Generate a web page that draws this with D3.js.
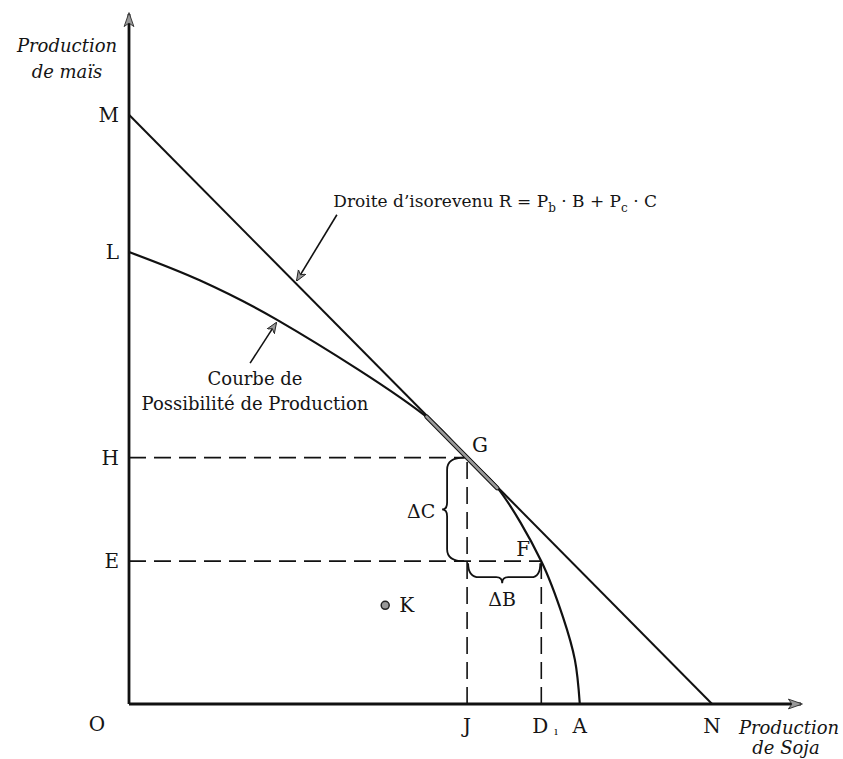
<!DOCTYPE html>
<html>
<head>
<meta charset="utf-8">
<script src="https://cdn.jsdelivr.net/npm/d3@7"></script>
<style>
  body { margin: 0; background: #fff; }
  text, tspan { font-family: "DejaVu Serif", serif; fill: #151515; }
</style>
</head>
<body>
<div id="chart"></div>
<script>
// valeurs (unités arbitraires)
var axisEnd = [96, 100];                 // bout des axes x, y
var yNames = ["M", "L", "H", "E"];
var yValues = [85.4, 65.5, 35.7, 20.7];
var xNames = ["J", "D", "A", "N"];
var xValues = [48.3, 58.9, 64.4, 83.3];
var pointG = [48.3, 35.7];
var pointF = [58.9, 20.7];
var pointK = [36.6, 14.3];
// courbe de possibilité de production
var ppfX = [0, 10.1, 21.1, 43.0, 48.3, 52.6, 58.9, 62.0, 63.7, 64.4];
var ppfY = [65.5, 61.4, 55.7, 41.2, 35.7, 31.4, 20.7, 12.6, 6.4, 0];

window.onload = () => {
    var width = 843;
    var height = 759;

    var svg = d3.select("#chart")
        .append("svg")
        .attr("width", width)
        .attr("height", height);

    var x = d3.scaleLinear().domain([0, 100]).range([129, 829]);
    var y = d3.scaleLinear().domain([0, 100]).range([704, 14]);

    var defs = svg.append("defs");
    defs.append("marker")
        .attr("id", "head")
        .attr("viewBox", "0 0 10 10")
        .attr("refX", 9).attr("refY", 5)
        .attr("markerWidth", 11).attr("markerHeight", 11)
        .attr("markerUnits", "userSpaceOnUse")
        .attr("orient", "auto")
        .append("path")
        .attr("d", "M0,1 L10,5 L0,9 L3,5 Z")
        .attr("fill", "#999").attr("stroke", "#222").attr("stroke-width", 0.8);
    defs.append("marker")
        .attr("id", "bighead")
        .attr("viewBox", "0 0 10 10")
        .attr("refX", 9).attr("refY", 5)
        .attr("markerWidth", 16).attr("markerHeight", 14)
        .attr("markerUnits", "userSpaceOnUse")
        .attr("orient", "auto")
        .append("path")
        .attr("d", "M0,1.5 L10,5 L0,8.5 L2.5,5 Z")
        .attr("fill", "#999").attr("stroke", "#222").attr("stroke-width", 0.6);

    // axes
    svg.append("line")
        .attr("x1", x(0)).attr("y1", y(0))
        .attr("x2", x(0)).attr("y2", y(axisEnd[1]))
        .attr("stroke", "#111").attr("stroke-width", 2.8)
        .attr("marker-end", "url(#bighead)");
    svg.append("line")
        .attr("x1", x(0)).attr("y1", y(0))
        .attr("x2", x(axisEnd[0])).attr("y2", y(0))
        .attr("stroke", "#111").attr("stroke-width", 2.8)
        .attr("marker-end", "url(#bighead)");

    // pointillés
    var dashes = [
        [[0, pointG[1]], pointG], [[pointG[0], 0], pointG],
        [[0, pointF[1]], pointF], [[pointF[0], 0], pointF]
    ];
    svg.selectAll(".dash")
        .data(dashes)
        .enter()
        .append("line")
        .attr("class", "dash")
        .attr("x1", d => x(d[0][0])).attr("y1", d => y(d[0][1]))
        .attr("x2", d => x(d[1][0])).attr("y2", d => y(d[1][1]))
        .attr("stroke", "#111").attr("stroke-width", 1.6)
        .attr("stroke-dasharray", "17,8");

    // droite d'isorevenu M -> N
    var yM = yValues[0], xN = xValues[3];
    svg.append("line")
        .attr("x1", x(0)).attr("y1", y(yM))
        .attr("x2", x(xN)).attr("y2", y(0))
        .attr("stroke", "#111").attr("stroke-width", 2);

    // courbe
    var ppf = ppfX.map((v, i) => [v, ppfY[i]]);
    var line = d3.line()
        .x(d => x(d[0])).y(d => y(d[1]))
        .curve(d3.curveCatmullRom.alpha(0.5));
    svg.append("path")
        .attr("d", line(ppf))
        .attr("fill", "none")
        .attr("stroke", "#111").attr("stroke-width", 2.2);

    // zone de tangence grisée
    var tx0 = 42.5, tx1 = 52.6;
    svg.append("line")
        .attr("x1", x(tx0)).attr("y1", y(yM * (1 - tx0 / xN)) + 1.2)
        .attr("x2", x(tx1)).attr("y2", y(yM * (1 - tx1 / xN)) + 1.2)
        .attr("stroke", "#111").attr("stroke-width", 4.6)
        .attr("stroke-linecap", "round");
    svg.append("line")
        .attr("x1", x(tx0)).attr("y1", y(yM * (1 - tx0 / xN)) + 1.2)
        .attr("x2", x(tx1)).attr("y2", y(yM * (1 - tx1 / xN)) + 1.2)
        .attr("stroke", "#9a9a9a").attr("stroke-width", 2.6)
        .attr("stroke-linecap", "round");

    // point K
    svg.append("circle")
        .attr("cx", x(pointK[0])).attr("cy", y(pointK[1]))
        .attr("r", 4)
        .attr("fill", "#999").attr("stroke", "#222").attr("stroke-width", 1.5);

    // accolades
    var xg = x(pointG[0]), yh = y(pointG[1]), ye = y(pointF[1]), xd = x(pointF[0]);
    var ym = (yh + ye) / 2;
    var sx = xg - 20;
    var braceC = `M${xg - 3},${yh} Q${sx},${yh} ${sx},${yh + 12} L${sx},${ym - 7} Q${sx},${ym} ${sx - 5},${ym}` +
        ` Q${sx},${ym} ${sx},${ym + 7} L${sx},${ye - 12} Q${sx},${ye} ${xg - 3},${ye}`;
    var xm = (xg + xd) / 2 - 2;
    var sy = ye + 16;
    var braceB = `M${xg + 1},${ye + 2} Q${xg + 1},${sy} ${xg + 12},${sy} L${xm - 6},${sy} Q${xm},${sy} ${xm},${sy + 6}` +
        ` Q${xm},${sy} ${xm + 6},${sy} L${xd - 10},${sy} Q${xd - 1},${sy} ${xd - 1},${ye + 2}`;
    svg.selectAll(".brace")
        .data([braceC, braceB])
        .enter()
        .append("path")
        .attr("class", "brace")
        .attr("d", d => d)
        .attr("fill", "none")
        .attr("stroke", "#111").attr("stroke-width", 1.8);

    // flèches d'annotation
    var pointers = [
        [[29.7, 70.9], [24.0, 61.4]],
        [[17.3, 49.4], [21.0, 55.2]]
    ];
    svg.selectAll(".ptr")
        .data(pointers)
        .enter()
        .append("line")
        .attr("class", "ptr")
        .attr("x1", d => x(d[0][0])).attr("y1", d => y(d[0][1]))
        .attr("x2", d => x(d[1][0])).attr("y2", d => y(d[1][1]))
        .attr("stroke", "#111").attr("stroke-width", 1.6)
        .attr("marker-end", "url(#head)");

    // lettres sur l'axe vertical
    svg.selectAll(".ylab")
        .data(yNames)
        .enter()
        .append("text")
        .attr("x", x(0) - 10)
        .attr("y", (d, i) => y(yValues[i]) + 7)
        .attr("text-anchor", "end")
        .style("font-size", "20px")
        .text(d => d);

    // lettres sur l'axe horizontal
    svg.selectAll(".xlab")
        .data(xNames)
        .enter()
        .append("text")
        .attr("x", (d, i) => x(xValues[i]) + (d === "D" ? -1 : 0))
        .attr("y", y(0) + 29)
        .attr("text-anchor", "middle")
        .style("font-size", "20px")
        .text(d => d);
    svg.append("text")
        .attr("x", x(xValues[1]) + 13).attr("y", y(0) + 31)
        .style("font-size", "11px")
        .text("ı");
    svg.append("text")
        .attr("x", x(0) - 32).attr("y", y(0) + 27)
        .attr("text-anchor", "middle")
        .style("font-size", "20px")
        .text("O");

    // G, F, K, ΔC, ΔB
    var labels = [
        ["G", x(pointG[0]) + 5, y(pointG[1]) - 6, 20],
        ["F", x(pointF[0]) - 25, y(pointF[1]) - 5, 20],
        ["K", x(pointK[0]) + 14, y(pointK[1]) + 7, 20],
        ["ΔC", xg - 60, ym + 9, 19],
        ["ΔB", xm - 14, sy + 29, 19]
    ];
    svg.selectAll(".plab")
        .data(labels)
        .enter()
        .append("text")
        .attr("x", d => d[1]).attr("y", d => d[2])
        .style("font-size", d => d[3] + "px")
        .text(d => d[0]);

    // titres des axes
    var yTitle = svg.append("text")
        .attr("text-anchor", "middle")
        .style("font-style", "italic").style("font-size", "18px");
    yTitle.append("tspan").attr("x", 67).attr("y", 52).text("Production");
    yTitle.append("tspan").attr("x", 67).attr("y", 78).text("de maïs");

    var xTitle = svg.append("text")
        .attr("text-anchor", "middle")
        .style("font-style", "italic").style("font-size", "18px");
    xTitle.append("tspan").attr("x", 789).attr("y", 734).text("Production");
    xTitle.append("tspan").attr("x", 786).attr("y", 754).text("de Soja");

    // légende de la droite
    var f = svg.append("text")
        .attr("x", 657).attr("y", 207)
        .attr("text-anchor", "end")
        .style("font-size", "17px");
    f.append("tspan").text("Droite d’isorevenu R = P");
    f.append("tspan").attr("dy", 5).style("font-size", "12px").text("b");
    f.append("tspan").attr("dy", -5).text(" ·  B + P");
    f.append("tspan").attr("dy", 5).style("font-size", "12px").text("c");
    f.append("tspan").attr("dy", -5).text(" ·  C");

    // légende de la courbe
    var c = svg.append("text")
        .attr("text-anchor", "middle")
        .style("font-size", "18px");
    c.append("tspan").attr("x", 255).attr("y", 385).text("Courbe de");
    c.append("tspan").attr("x", 255).attr("y", 410).text("Possibilité de Production");
};
</script>
</body>
</html>
